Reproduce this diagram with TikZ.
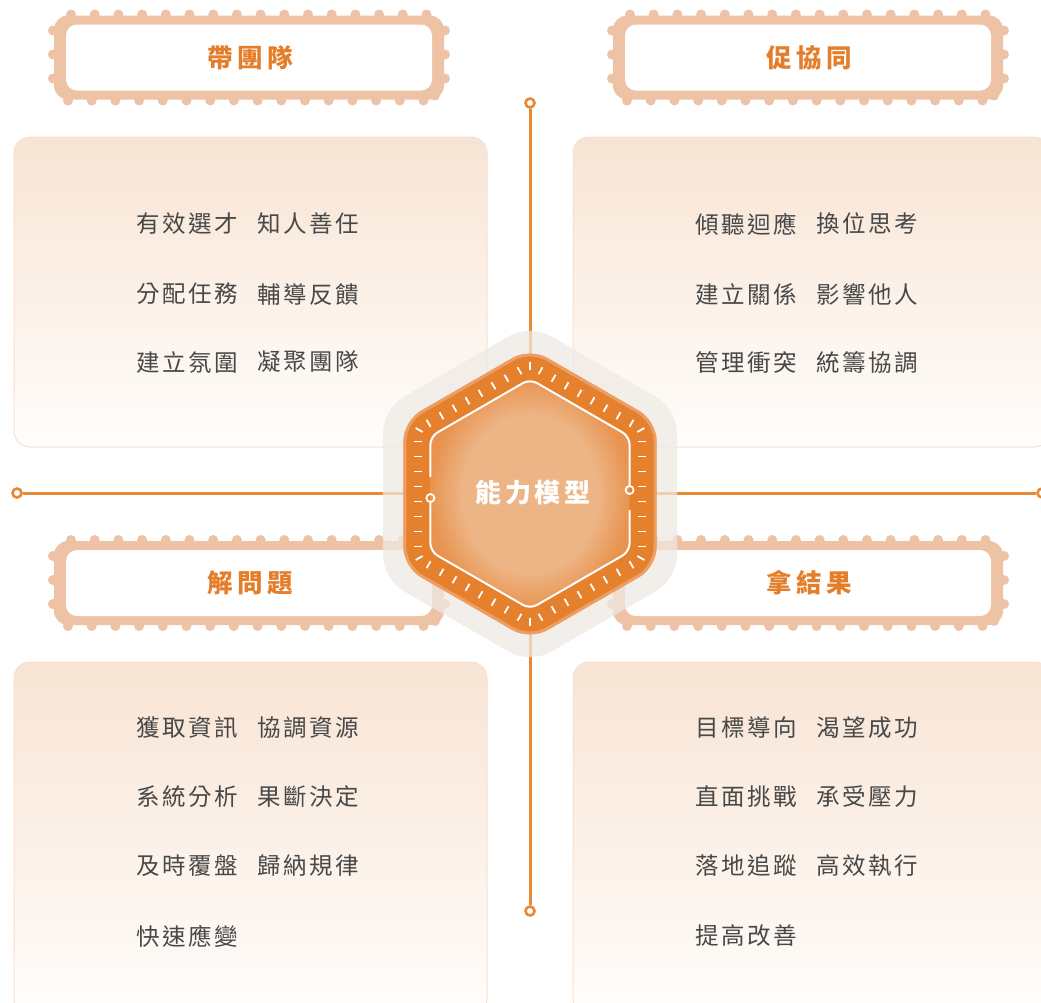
\documentclass[tikz,border=0pt]{standalone}
\usepackage{fontspec}
\newfontfamily\cjk[LetterSpace=11]{Noto Sans CJK TC}
\newfontfamily\cjkT[LetterSpace=18]{Noto Sans CJK TC}
\newfontfamily\cjkC[LetterSpace=13]{Noto Sans CJK TC}
\definecolor{orangeL}{RGB}{233,135,50}
\definecolor{bandC}{RGB}{238,194,164}
\definecolor{titleC}{RGB}{228,126,42}
\definecolor{txtC}{RGB}{72,72,72}
\definecolor{cardTop}{RGB}{248,228,212}
\definecolor{cardBot}{RGB}{255,253,251}
\definecolor{cardEdge}{RGB}{246,226,210}
\definecolor{haloC}{RGB}{238,234,228}
\definecolor{hexOut}{RGB}{229,128,45}
\definecolor{hexEdge}{RGB}{236,158,100}
\definecolor{hexIn}{RGB}{237,181,133}
\definecolor{hexMid}{RGB}{232,148,80}
\pgfdeclareradialshading{innerglow}{\pgfpoint{0bp}{0bp}}{color(0bp)=(hexIn); color(17bp)=(hexIn); color(25bp)=(hexMid); color(50bp)=(hexMid)}
\tikzset{
 card/.style={draw=cardEdge, line width=1pt, top color=cardTop, bottom color=cardBot, rounded corners=16pt},
 body/.style={anchor=west, text=txtC, font=\cjk\fontsize{23.5}{23.5}\selectfont, inner sep=0pt},
 ttl/.style={text=titleC, font=\cjkT\bfseries\fontsize{25.5}{25.5}\selectfont, inner sep=0pt},
 endc/.style={circle, draw=orangeL, line width=2.6pt, fill=white, minimum size=9pt, inner sep=0pt},
 axisline/.style={draw=orangeL, line width=3pt},
 tickmark/.style={white, line width=1.8pt},
}
\newcommand\mybadge[4]{%
 \begin{scope}[shift={(#2,#3)}]
  \fill[bandC, rounded corners=14pt] (-195,-42) rectangle (195,42);
  \foreach \i in {0,...,15} {\fill[bandC] (-178+23.7*\i,-43) circle (5pt); \fill[bandC] (-181+23.7*\i,43) circle (5pt);}
  \foreach \j in {-27,-3,21} {\fill[bandC] (-196,\j) circle (5pt); \fill[bandC] (196,\j) circle (5pt);}
  \fill[bandC] (186,38) circle (5pt);
  \fill[white, rounded corners=11pt] (-183,-33) rectangle (183,33);
  \node[ttl] (#1) at (1.5,0) {#4};
 \end{scope}}
\begin{document}
\begin{tikzpicture}[x=1pt,y=-1pt]
\useasboundingbox (0,0) rectangle (1041,1002);
\fill[white] (0,0) rectangle (1041,1002);
% cards
\path[card] (14,137) rectangle (487,447);
\path[card] (573,137) rectangle (1050,447);
\path[card] (14,662) rectangle (487,1015);
\path[card] (573,662) rectangle (1050,1015);
% badges
\mybadge{b1}{249}{57.5}{帶團隊}
\mybadge{b2}{808}{57.5}{促協同}
\mybadge{b3}{249}{583}{解問題}
\mybadge{b4}{808}{583}{拿結果}
% card texts
\node[body] (a1) at (136,224) {有效選才};
\node[body] (a2) at (257,224) {知人善任};
\node[body] (a3) at (136,294) {分配任務};
\node[body] (a4) at (257,294) {輔導反饋};
\node[body] (a5) at (136,362) {建立氛圍};
\node[body] (a6) at (257,362) {凝聚團隊};
\node[body] (c1) at (695,224) {傾聽迴應};
\node[body] (c2) at (816,224) {換位思考};
\node[body] (c3) at (695,294) {建立關係};
\node[body] (c4) at (816,294) {影響他人};
\node[body] (c5) at (695,362) {管理衝突};
\node[body] (c6) at (816,362) {統籌協調};
\node[body] (p1) at (136,728) {獲取資訊};
\node[body] (p2) at (257,728) {協調資源};
\node[body] (p3) at (136,797) {系統分析};
\node[body] (p4) at (257,797) {果斷決定};
\node[body] (p5) at (136,866) {及時覆盤};
\node[body] (p6) at (257,866) {歸納規律};
\node[body] (p7) at (136,936) {快速應變};
\node[body] (r1) at (695,728) {目標導向};
\node[body] (r2) at (816,728) {渴望成功};
\node[body] (r3) at (695,797) {直面挑戰};
\node[body] (r4) at (816,797) {承受壓力};
\node[body] (r5) at (695,866) {落地追蹤};
\node[body] (r6) at (816,866) {高效執行};
\node[body] (r7) at (695,936) {提高改善};
% axes
\node[endc] (vt) at (530,103) {};
\node[endc] (vb) at (530,911) {};
\node[endc] (hl) at (17,493) {};
\node[endc] (hr) at (1042,493) {};
\draw[axisline] (vt) -- (vb);
\draw[axisline] (hl) -- (hr);
% hexagon
\begin{scope}[shift={(530,494)}]
 \path[fill=haloC, fill opacity=0.72, rounded corners=24pt] (90:170)--(150:170)--(210:170)--(270:170)--(330:170)--(30:170)--cycle;
 \path[fill=hexOut, rounded corners=20pt] (90:146)--(150:146)--(210:146)--(270:146)--(330:146)--(30:146)--cycle;
 \path[draw=hexEdge, line width=3pt, rounded corners=19pt] (90:144.5)--(150:144.5)--(210:144.5)--(270:144.5)--(330:144.5)--(30:144.5)--cycle;
 \path[shading=innerglow, rounded corners=9pt] (90:115)--(150:115)--(210:115)--(270:115)--(330:115)--(30:115)--cycle;
 \foreach \t in {0,60,...,300} {\foreach \s in {-52.5,-37.5,...,52.5} {\draw[tickmark, rotate=\t] (108,\s) -- (116,\s);}}
 \foreach \t in {30,90,...,330} {\draw[tickmark, rotate=\t] (124,0) -- (132,0);}
 \draw[white, line width=2pt, rounded corners=8pt] (-99.6,-17) -- (-99.6,-57.5) -- (0,-115) -- (99.6,-57.5) -- (99.6,-8);
 \draw[white, line width=2pt, rounded corners=8pt] (99.6,16) -- (99.6,57.5) -- (0,115) -- (-99.6,57.5) -- (-99.6,8);
 \draw[white, line width=1.8pt] (-99.6,4) circle (4pt);
 \draw[white, line width=1.8pt] (99.6,-4) circle (4pt);
\end{scope}
\node[text=white, font=\cjkC\bfseries\fontsize{26}{26}\selectfont, inner sep=0pt] (core) at (533,493) {能力模型};
\end{tikzpicture}
\end{document}
